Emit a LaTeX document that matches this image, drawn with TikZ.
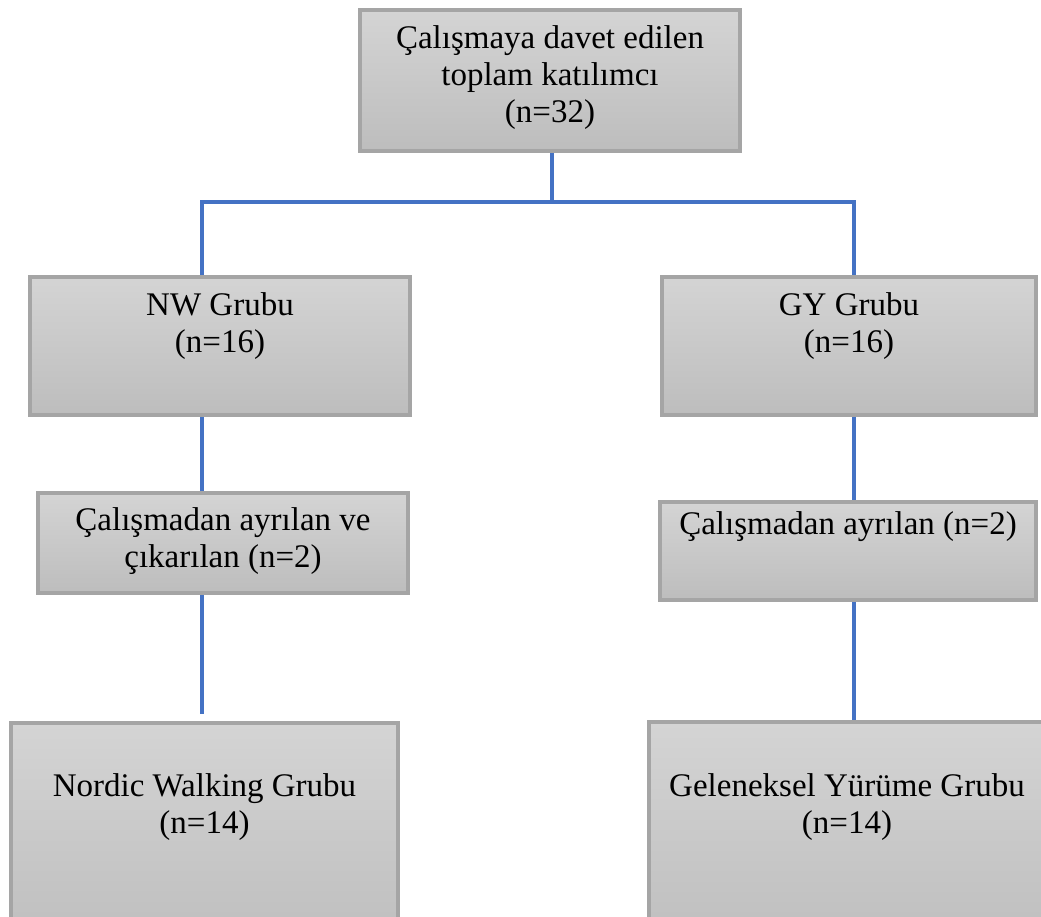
\documentclass[tikz,border=0pt]{standalone}
\usepackage{fontspec}
\setmainfont{Liberation Serif}
\usetikzlibrary{positioning}
\definecolor{boxline}{HTML}{A5A5A5}
\definecolor{boxtop}{HTML}{D4D4D4}
\definecolor{boxbot}{HTML}{BDBDBD}
\definecolor{linkblue}{HTML}{4472C4}

\begin{document}
\begin{tikzpicture}[x=1pt, y=-1pt,
  box/.style={draw=boxline, line width=4pt, top color=boxtop, bottom color=boxbot, inner sep=0pt},
  lbl/.style={align=center, inner sep=0pt, font=\fontsize{33}{37}\selectfont},
  link/.style={draw=linkblue, line width=3.5pt}
]
\useasboundingbox (0,0) rectangle (1041,917);
\clip (0,0) rectangle (1041,917);
\node[box, minimum width=380pt, minimum height=141pt] (top) at (550,80.5) {};
\node[box, minimum width=380pt, minimum height=138pt] (nw) at (220,346) {};
\node[box, minimum width=374pt, minimum height=138pt] (gy) at (849,346) {};
\node[box, minimum width=370pt, minimum height=100pt] (nwx) at (223,543) {};
\node[box, minimum width=376pt, minimum height=98pt] (gyx) at (848,551) {};
\node[box, minimum width=387pt, minimum height=234pt] (nwf) at (204.5,840) {};
\node[box, minimum width=396pt, minimum height=236pt] (gyf) at (847,840) {};
\node[lbl, below=17.5pt of top.north] (top-t) {Çalışmaya davet edilen\\toplam katılımcı\\(n=32)};
\node[lbl, below=17.5pt of nw.north] (nw-t) {NW Grubu\\(n=16)};
\node[lbl, below=17.5pt of gy.north] (gy-t) {GY Grubu\\(n=16)};
\node[lbl, below=16.5pt of nwx.north] (nwx-t) {Çalışmadan ayrılan ve\\çıkarılan (n=2)};
\node[lbl, below=11.5pt of gyx.north] (gyx-t) {Çalışmadan ayrılan (n=2)};
\node[lbl, below=52.5pt of nwf.north] (nwf-t) {Nordic Walking Grubu\\(n=14)};
\node[lbl, below=53.5pt of gyf.north] (gyf-t) {Geleneksel Yürüme Grubu\\(n=14)};
\coordinate (jn) at (552,202);
\coordinate (cl) at (202,202);
\coordinate (cr) at (854,202);
\draw[link] (top.south -| jn) -- (jn);
\draw[link] (cl |- nw.north) -- (cl) -- (cr) -- (cr |- gy.north);
\draw[link] (cl |- nw.south) -- (cl |- nwx.north);
\draw[link, shorten >=7pt] (cl |- nwx.south) -- (cl |- nwf.north);
\draw[link] (cr |- gy.south) -- (cr |- gyx.north);
\draw[link] (cr |- gyx.south) -- (cr |- gyf.north);
\end{tikzpicture}
\end{document}
